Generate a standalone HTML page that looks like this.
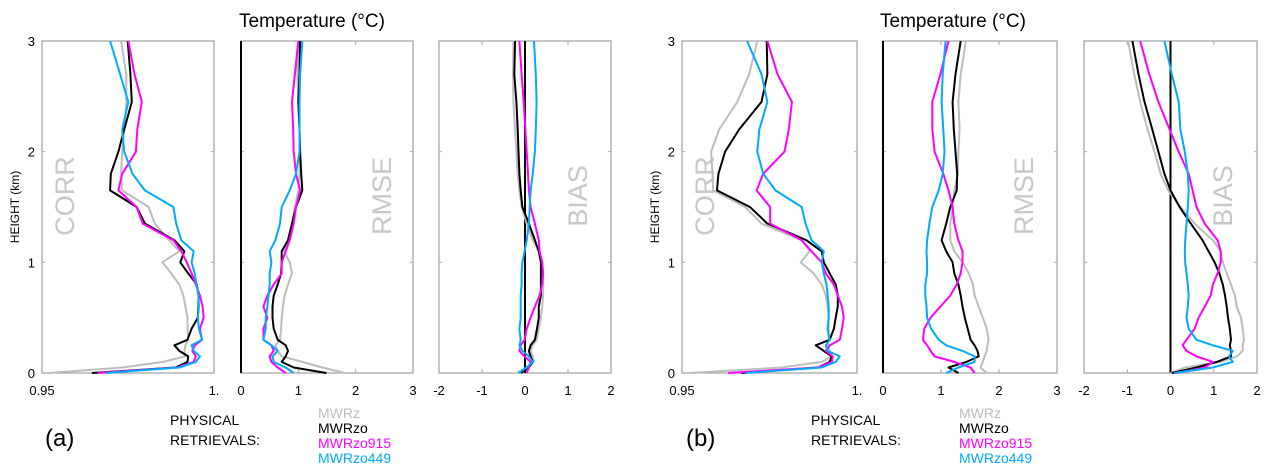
<!DOCTYPE html>
<html><head><meta charset="utf-8"><style>
html,body{margin:0;padding:0;background:#fff;}
svg{display:block;font-family:"Liberation Sans",Arial,sans-serif;}
</style></head><body>
<svg id="chart" width="1266" height="475" viewBox="0 0 1266 475">
<g id="layer"></g>
</svg>
<script>
const heights=[0,0.05,0.1,0.15,0.2,0.25,0.3,0.4,0.5,0.6,0.7,0.8,0.9,1.0,1.1,1.2,1.35,1.5,1.65,1.8,2.0,2.2,2.45,2.7,3.0];
const seriesNames=["MWRz","MWRzo","MWRzo915","MWRzo449"];
// Panel (a)
const aCorrMWRz=[.952,.9733,.9852,.9917,.9914,.9917,.9925,.9923,.9923,.9917,.9911,.9899,.9876,.985,.9899,.987,.9828,.981,.9733,.973,.9733,.9739,.9745,.9745,.973];
const aCorrMWRzo=[.9645,.9888,.9923,.9925,.9899,.9885,.9923,.9935,.9953,.9955,.9955,.995,.9925,.9902,.9914,.9885,.9799,.9775,.9698,.97,.9722,.9739,.9761,.9757,.9749];
const aCorr915=[.9662,.9893,.9941,.9947,.9937,.9944,.9965,.9959,.997,.9967,.9959,.9947,.9935,.9921,.9905,.9882,.9793,.9775,.9722,.9733,.9773,.9777,.979,.9769,.9751];
const aCorr449=[.9686,.9899,.9947,.9959,.9941,.9935,.9965,.9956,.9953,.9956,.9955,.9949,.9944,.9935,.9941,.9905,.989,.9882,.9799,.9763,.9739,.9733,.9751,.9727,.9698];
const aRmseMWRz=[1.81,1.42,1.07,.71,.64,.60,.68,.70,.71,.73,.76,.82,.89,.85,.75,.82,.89,.94,1.0,1.02,1.03,1.02,1.0,.98,1.0];
const aRmseMWRzo=[1.49,.92,.71,.78,.82,.78,.64,.57,.55,.55,.57,.64,.70,.71,.71,.82,.89,.96,1.07,1.05,1.03,1.02,1.0,1.02,1.03];
const aRmse915=[.78,.64,.53,.50,.57,.53,.39,.39,.46,.39,.46,.57,.71,.71,.78,.85,.92,.96,1.03,.96,.92,.91,.89,.94,1.0];
const aRmse449=[.92,.78,.57,.55,.64,.53,.39,.43,.43,.46,.48,.50,.50,.53,.50,.60,.68,.71,.85,.96,1.02,1.02,1.02,1.03,1.07];
const aBiasMWRz=[-.20,.04,.21,.18,.13,.18,.27,.32,.37,.40,.42,.42,.42,.40,.32,.18,.04,-.08,-.13,-.17,-.20,-.23,-.27,-.28,-.27];
const aBiasMWRzo=[-.10,.09,.18,.13,.09,.13,.23,.28,.32,.32,.37,.37,.37,.37,.32,.23,.09,-.06,-.10,-.13,-.15,-.17,-.20,-.25,-.23];
const aBias915=[.04,.09,.13,-.01,-.13,-.10,-.01,.04,.13,.23,.34,.40,.42,.40,.34,.32,.23,.13,.09,.07,.04,.01,-.03,-.08,-.13];
const aBias449=[-.15,.04,.18,.09,-.06,-.13,-.10,-.13,-.10,-.10,-.10,-.08,-.08,-.06,-.01,.04,.09,.11,.13,.18,.23,.25,.27,.25,.21];
// Panel (b)
const bCorrMWRz=[.9525,.9784,.9899,.9928,.9922,.9916,.9919,.9919,.9919,.9916,.9911,.9899,.9876,.9839,.9865,.9842,.9727,.9681,.9589,.9587,.9583,.9606,.9658,.9692,.9715];
const bCorrMWRzo=[.9669,.9888,.9922,.9928,.9905,.9882,.9922,.9934,.9939,.9945,.9945,.9939,.9922,.9905,.9899,.9855,.9744,.9694,.96,.9604,.9623,.9663,.9727,.9744,.9742];
const bCorr915=[.9632,.9888,.9928,.9931,.9911,.9922,.9951,.9957,.9962,.9957,.9945,.9934,.9911,.9899,.987,.9842,.9752,.9752,.9713,.9732,.9793,.9805,.9814,.9773,.9744];
const bCorr449=[.9681,.9899,.9939,.9951,.9916,.9911,.9922,.9916,.9919,.9919,.9916,.9913,.9905,.9899,.9905,.987,.9853,.9842,.9767,.9732,.9715,.9721,.9744,.9727,.9686];
const bRmseMWRz=[1.79,1.68,1.72,1.75,1.79,1.80,1.82,1.79,1.72,1.65,1.58,1.55,1.48,1.37,1.23,1.16,1.16,1.20,1.23,1.29,1.30,1.32,1.30,1.34,1.43];
const bRmseMWRzo=[1.30,1.13,1.44,1.65,1.63,1.58,1.51,1.46,1.41,1.37,1.34,1.30,1.23,1.20,1.09,1.01,1.09,1.16,1.27,1.28,1.25,1.22,1.20,1.25,1.34];
const bRmse915=[1.58,1.51,1.23,.89,.82,.76,.69,.71,.82,.99,1.16,1.27,1.34,1.37,1.37,1.30,1.23,1.20,1.13,1.04,.89,.85,.85,.99,1.13];
const bRmse449=[1.09,1.30,1.58,1.58,1.37,1.09,.96,.83,.76,.75,.73,.73,.76,.76,.75,.76,.80,.85,.96,1.03,1.06,1.04,1.01,1.03,1.08];
const bBiasMWRz=[0,.33,1.16,1.53,1.67,1.67,1.70,1.67,1.63,1.53,1.49,1.40,1.30,1.21,1.16,.98,.56,.23,-.05,-.23,-.37,-.53,-.70,-.84,-.98];
const bBiasMWRzo=[.03,.60,1.07,1.40,1.40,1.37,1.40,1.37,1.33,1.30,1.26,1.21,1.13,1.02,.88,.74,.47,.21,0,-.14,-.28,-.42,-.60,-.74,-.88];
const bBias915=[.14,.79,.98,.60,.37,.28,.37,.56,.65,.79,.93,.98,1.09,1.16,1.16,1.09,.79,.60,.51,.42,.19,-.02,-.28,-.49,-.70];
const bBias449=[.09,.98,1.44,1.35,1.44,.98,.60,.42,.37,.40,.42,.40,.37,.34,.33,.34,.37,.40,.42,.40,.33,.23,.19,.03,-.14];
const corrTicks=[0.95,1.0], corrTickLabels=["0.95","1."];
const rmseTicks=[0,1,2,3], biasTicks=[-2,-1,0,1,2], yTicks=[0,1,2,3];

const NS="http://www.w3.org/2000/svg";
const layer=document.getElementById('layer');
function el(tag,attrs,parent){const e=document.createElementNS(NS,tag);for(const k in attrs)e.setAttribute(k,attrs[k]);(parent||layer).appendChild(e);return e;}
const Y0=373,Y1=41;
function yS(h){return Y0+(Y1-Y0)*h/3;}
const colors=["#bdbdbd","#000000","#ff00ff","#00aaff"];

function panel(key,x0,x1,dmin,dmax,ticks,tlabels,series,watermark,showY,zeroLine){
  const g=el('g',{});
  
  
  const xS=v=>x0+(x1-x0)*(v-dmin)/(dmax-dmin);
  const box=el('rect',{x:x0,y:Y1,width:x1-x0,height:Y0-Y1,fill:'none',stroke:'#a8a8a8','stroke-width':1.3},g);
  
  
  // y ticks
  yTicks.forEach(t=>{
    const y=yS(t);
    el('line',{x1:x0,x2:x0+3,y1:y,y2:y,stroke:'#a8a8a8'},g);
    el('line',{x1:x1-3,x2:x1,y1:y,y2:y,stroke:'#a8a8a8'},g);
    if(showY){const tx=el('text',{x:x0-7,y:y+5,'font-size':13,'text-anchor':'end',fill:'#000'},g);tx.textContent=t;
      
      }
  });
  ticks.forEach((t,i)=>{
    const x=xS(t);
    el('line',{x1:x,x2:x,y1:Y0,y2:Y0-4,stroke:'#a8a8a8'},g);
    el('line',{x1:x,x2:x,y1:Y1,y2:Y1+4,stroke:'#a8a8a8'},g);
    const tx=el('text',{x:x,y:395,'font-size':13,'text-anchor':'middle',fill:'#000'},g);
    tx.textContent=tlabels[i];
    
    
  });
  const wm=el('text',{transform:`translate(${watermark.x},${watermark.y}) rotate(-90)`,'font-size':27,fill:'#c8c8c8','text-anchor':'middle'},g);
  wm.textContent=watermark.t;
  
  
  if(zeroLine){const z=el('line',{x1:xS(0),x2:xS(0),y1:Y1,y2:Y0,stroke:'#000','stroke-width':2},g);
    
    }
  series.forEach((vals,si)=>{
    const pts=vals.map((v,i)=>xS(v).toFixed(1)+','+yS(heights[i]).toFixed(1)).join(' ');
    const p=el('polyline',{points:pts,fill:'none',stroke:colors[si],'stroke-width':2,'stroke-linejoin':'round'},g);
    
    
  });
}
function figure(tag,off,b,data){
  const [c,r,bi]=b;
  panel(tag+'-corr',c[0],c[1],0.95,1.0,corrTicks,corrTickLabels,data[0],{t:'CORR',x:c[0]+32,y:196},true,false);
  panel(tag+'-rmse',r[0],r[1],0,3,rmseTicks,rmseTicks.map(String),data[1],{t:'RMSE',x:r[0]+150,y:196},false,true);
  panel(tag+'-bias',bi[0],bi[1],-2,2,biasTicks,biasTicks.map(String),data[2],{t:'BIAS',x:bi[0]+148,y:196},false,true);
  const title=el('text',{x:off+312,y:27,'font-size':19,'text-anchor':'middle',fill:'#000'});
  title.textContent='Temperature (°C)';
  
  
  const yl=el('text',{transform:`translate(${c[0]-23},207) rotate(-90)`,'font-size':12,'text-anchor':'middle',fill:'#000'});
  yl.textContent='HEIGHT (km)';
  
  
  const lab=el('text',{x:off+45,y:446,'font-size':24,fill:'#000'});
  lab.textContent='('+tag+')';
  
  
  const p1=el('text',{x:off+170,y:425,'font-size':14,fill:'#000'});
  p1.textContent='PHYSICAL';
  
  
  const p2=el('text',{x:off+170,y:445,'font-size':14,fill:'#000'});
  p2.textContent='RETRIEVALS:';
  
  
  seriesNames.forEach((n,i)=>{
    const t=el('text',{x:off+318,y:418+15*i,'font-size':14,fill:colors[i]});
    t.textContent=n;
    
    
  });
}
figure('a',0,[[42,214],[241,413],[439,611]],[[aCorrMWRz,aCorrMWRzo,aCorr915,aCorr449],[aRmseMWRz,aRmseMWRzo,aRmse915,aRmse449],[aBiasMWRz,aBiasMWRzo,aBias915,aBias449]]);
figure('b',641,[[682,857],[883,1057],[1084,1257]],[[bCorrMWRz,bCorrMWRzo,bCorr915,bCorr449],[bRmseMWRz,bRmseMWRzo,bRmse915,bRmse449],[bBiasMWRz,bBiasMWRzo,bBias915,bBias449]]);
</script>
</body></html>
